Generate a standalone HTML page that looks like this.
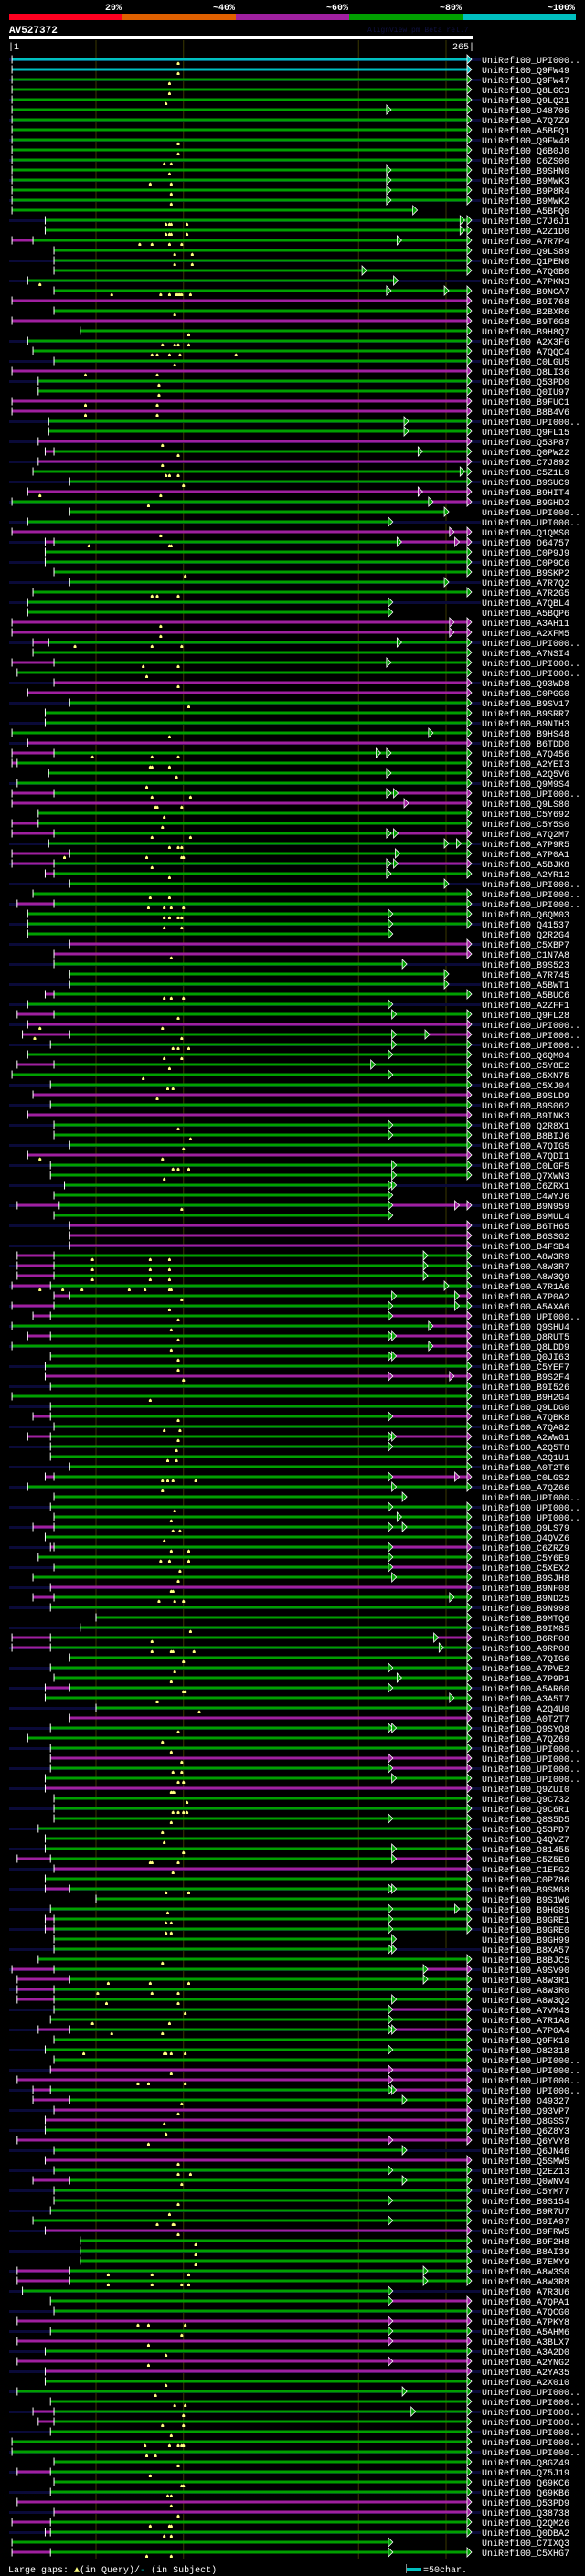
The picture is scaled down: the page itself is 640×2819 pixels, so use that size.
<!DOCTYPE html>
<html><head><meta charset="utf-8">
<style>
html,body{margin:0;padding:0;background:#000;}
svg{display:block;}
text{font-family:"Liberation Mono",monospace;}
</style></head>
<body>
<svg id="chart" width="640" height="2819" viewBox="0 0 640 2819" xmlns="http://www.w3.org/2000/svg">
<rect x="0" y="0" width="640" height="2819" fill="#000"/>
<g>
<rect x="10" y="15" width="124" height="7" fill="#ff0020"/>
<rect x="134" y="15" width="124" height="7" fill="#e06000"/>
<rect x="258" y="15" width="124" height="7" fill="#a020a0"/>
<rect x="382" y="15" width="124" height="7" fill="#00a000"/>
<rect x="506" y="15" width="124" height="7" fill="#00c0c0"/>
<text x="133" y="11" fill="#fff" font-size="10" font-weight="bold" text-anchor="end">20%</text>
<text x="257" y="11" fill="#fff" font-size="10" font-weight="bold" text-anchor="end">~40%</text>
<text x="381" y="11" fill="#fff" font-size="10" font-weight="bold" text-anchor="end">~60%</text>
<text x="505" y="11" fill="#fff" font-size="10" font-weight="bold" text-anchor="end">~80%</text>
<text x="629" y="11" fill="#fff" font-size="10" font-weight="bold" text-anchor="end">~100%</text>
</g>
<text x="10" y="36" fill="#fff" font-size="11" font-weight="bold">AV527372</text>
<text x="402" y="35" fill="#101040" font-size="8">AlignView.pm Beta rel.7</text>
<rect x="10" y="39" width="508" height="4" fill="#fff"/>
<text x="9" y="54" fill="#fff" font-size="10">|1</text>
<text x="519" y="54" fill="#fff" font-size="10" text-anchor="end">265|</text>
<g id="grid"></g>
<g id="rows"></g>
<g>
<text x="9" y="2815" fill="#fff" font-size="10">Large gaps: <tspan fill="#ffff80">▲</tspan>(in Query)/<tspan fill="#00c0c0">-</tspan> (in Subject)</text>
<rect x="445" y="2810" width="16" height="3" fill="#00c0c0"/>
<rect x="444" y="2806" width="1" height="10" fill="#888"/>
<text x="463" y="2815" fill="#fff" font-size="10">=50char.</text>
</g>
</svg>
<script>
const gridTicks = [50, 100, 150, 200, 250];
const labels = ["UPI000..","Q9FW49","Q9FW47","Q8LGC3","Q9LQ21","O48705","A7Q7Z9","A5BFQ1","Q9FW48","Q6B0J0","C6ZS00","B9SHN0","B9MWK3","B9P8R4","B9MWK2","A5BFQ0","C7J6J1","A2Z1D0","A7R7P4","Q9LS89","Q1PEN0","A7QGB0","A7PKN3","B9NCA7","B9I768","B2BXR6","B9T6G8","B9H8Q7","A2X3F6","A7QQC4","C0LGU5","Q8LI36","Q53PD0","Q0IU97","B9FUC1","B8B4V6","UPI000..","Q9FL15","Q53P87","Q0PW22","C7J892","C5Z1L9","B9SUC9","B9HIT4","B9GHD2","UPI000..","UPI000..","Q1QMS0","O64757","C0P9J9","C0P9C6","B9SKP2","A7R7Q2","A7R2G5","A7QBL4","A5BQP6","A3AH11","A2XFM5","UPI000..","A7NSI4","UPI000..","UPI000..","Q93WD8","C0PGG0","B9SV17","B9SRR7","B9NIH3","B9HS48","B6TDD0","A7Q456","A2YEI3","A2Q5V6","Q9M9S4","UPI000..","Q9LS80","C5Y692","C5Y5S0","A7Q2M7","A7P9R5","A7P0A1","A5BJK8","A2YR12","UPI000..",
"UPI000..","UPI000..","Q6QM03","Q41537","Q2R2G4","C5XBP7","C1N7A8","B9S523","A7R745","A5BWT1","A5BUC6","A2ZFF1","Q9FL28","UPI000..","UPI000..","UPI000..","Q6QM04","C5Y8E2","C5XN75","C5XJ04","B9SLD9","B9S062","B9INK3","Q2R8X1","B8BIJ6","A7QIG5","A7QDI1","C0LGF5",
"Q7XWN3","C6ZRX1","C4WYJ6","B9N959","B9MUL4","B6TH65","B6SSG2","B4FSB4","A8W3R9","A8W3R7","A8W3Q9","A7R1A6","A7P0A2","A5AXA6","UPI000..","Q9SHU4","Q8RUT5","Q8LDD9","Q0JI63","C5YEF7","B9S2F4","B9I526","B9H2G4","Q9LDG0","A7QBK8","A7QA82","A2WWG1",
"A2Q5T8","A2Q1U1","A0T2T6","C0LGS2","A7QZ66","UPI000..","UPI000..","UPI000..","Q9LS79","Q4QVZ6","C6ZRZ9","C5Y6E9","C5XEX2","B9SJH8","B9NF08","B9ND25","B9N998","B9MTQ6","B9IM85","B6RF08","A9RP08","A7QIG6","A7PVE2","A7P9P1","A5AR60","A3A5I7","A2Q4U0","A0T2T7",
"Q9SYQ8","A7QZ69","UPI000..","UPI000..","UPI000..","UPI000..","Q9ZUI0","Q9C732","Q9C6R1","Q8S5D5","Q53PD7","Q4QVZ7","O81455","C5Z5E9","C1EFG2","C0P786","B9SM68","B9S1W6","B9HG85","B9GRE1","B9GRE0","B9GH99","B8XA57","B8BJC5","A9SV90","A8W3R1","A8W3R0","A8W3Q2",
"A7VM43","A7R1A8","A7P0A4","Q9FK10","O82318","UPI000..","UPI000..","UPI000..","UPI000..","O49327","Q93VP7","Q8GSS7","Q6Z8Y3","Q6YVY8","Q6JN46","Q5SMW5","Q2EZ13","Q0WNV4","C5YM77","B9S154","B9R7U7","B9IA97","B9FRW5","B9F2H8","B8AI39","B7EMY9","A8W3S0","A8W3R8",
"A7R3U6","A7QPA1","A7QCG0","A7PKY8","A5AHM6","A3BLX7","A3A2D0","A2YNG2","A2YA35","A2X010","UPI000..","UPI000..","UPI000..","UPI000..","UPI000..","UPI000..","UPI000..","Q8GZ49","Q75J19","Q69KC6","Q69KB6","Q53PD9","Q38738","Q2QM26","Q0DBA2","C7IXQ3","C5XHG7"];
// [start, prefixEnd(magenta), color, tailStart(magenta), end, extraArrows, gapsInQuery, navy]
const alignRows = [
[2,0,'c',0,262,[],[97],1],[2,0,'c',0,262,[],[97],0],[2,0,'g',0,262,[],[92],1],[2,0,'g',0,262,[],[92],0],[2,0,'g',0,262,[],[90],1],
[2,0,'g',0,262,[216],[],0],[2,0,'g',0,262,[],[],1],[2,0,'g',0,262,[],[],0],[2,0,'g',0,262,[],[97],1],[2,0,'g',0,262,[],[97],0],
[2,0,'g',0,262,[],[89,93],1],[2,0,'g',0,262,[216],[92],0],[2,0,'g',0,262,[216],[81,93],1],[2,0,'g',0,262,[216],[93],0],[2,0,'g',0,262,[216],[93],1],
[2,0,'g',0,231,[],[],0],[21,0,'g',0,262,[258],[90,92,93,102],1],[21,0,'g',0,262,[258],[90,92,93,102],0],[2,14,'g',0,262,[222],[75,82,92,99],0],[26,0,'g',0,262,[],[95,105],0],
[26,0,'g',0,262,[],[95,105],1],[26,0,'g',0,262,[202],[],0],[11,0,'g',0,220,[],[18],1],[26,0,'g',0,262,[216,249],[59,87,92,96,97,98,99,104],0],[2,0,'m',0,262,[],[],0],
[26,0,'g',0,262,[],[95],0],[2,0,'m',0,262,[],[],0],[41,0,'g',0,262,[],[103],0],[11,0,'g',0,262,[],[88,95,97,103],1],[14,0,'g',0,262,[],[82,85,92,98,130],0],
[26,0,'g',0,262,[],[95],1],[2,0,'m',0,262,[],[44,85],0],[17,0,'g',0,262,[],[86],1],[17,0,'g',0,262,[],[86],0],[2,0,'m',0,262,[],[44,85],0],
[2,0,'m',0,262,[],[44,85],0],[23,0,'g',0,262,[226],[],1],[23,0,'g',0,262,[226],[],0],[17,0,'m',0,262,[],[88],1],[21,26,'g',0,262,[234],[97],0],
[17,0,'m',0,262,[],[88],1],[14,0,'g',0,262,[258],[90,92,97],0],[35,0,'g',0,262,[],[100],1],[11,0,'m',0,262,[234],[18,87],0],[2,0,'g',240,262,[240],[80],1],
[35,0,'g',0,249,[],[],0],[11,0,'g',0,217,[],[],1],[2,0,'m',0,262,[252],[87],0],[21,26,'g',222,262,[222,255],[46,92,93],1],[21,0,'g',0,262,[],[],0],
[21,0,'g',0,262,[],[],1],[26,0,'g',0,262,[],[101],0],[35,0,'g',0,249,[],[],1],[14,0,'g',0,262,[],[82,85,97],0],[11,0,'g',0,217,[],[],1],
[11,0,'g',0,217,[],[],0],[2,0,'m',0,262,[252],[87],0],[2,0,'m',0,262,[252],[87],0],[14,23,'g',0,262,[222],[38,82,99],1],[14,0,'g',0,262,[],[],0],
[2,26,'g',0,262,[216],[77,97],0],[5,0,'g',0,262,[],[79],0],[26,0,'m',0,262,[],[97],1],[11,0,'m',0,262,[],[],0],[35,0,'g',0,262,[],[103],1],
[21,0,'g',0,262,[],[],0],[21,0,'g',0,262,[],[],1],[2,0,'g',0,262,[240],[92],0],[11,0,'m',0,262,[],[],1],[2,26,'g',0,262,[210,216],[48,82,97],0],
[2,5,'g',0,262,[],[81,82,92],0],[23,0,'g',0,262,[216],[96],0],[5,0,'g',0,262,[],[79],1],[2,26,'g',220,262,[216,220],[82,104],0],[2,0,'m',0,262,[226],[84,85,99],0],
[17,0,'g',0,262,[],[89],0],[2,17,'g',0,262,[],[88],0],[2,26,'g',220,262,[216,220],[82,104],0],[23,0,'g',0,262,[249,256],[92,97,99],1],[2,35,'g',0,262,[221],[32,79,99,100],0],
[2,26,'g',220,262,[216,220],[82],1],[21,26,'g',0,262,[216],[92],0],[35,0,'g',0,249,[],[],1],
[14,0,'g',0,262,[],[81,92],0],[5,26,'g',0,262,[],[80,89,93,100],1],[11,0,'g',0,262,[217],[89,92,97,99],0],[11,0,'g',0,262,[217],[89,99],1],[11,0,'g',0,217,[],[],0],
[35,0,'m',0,262,[],[],1],[26,0,'m',0,262,[],[93],0],[26,0,'g',0,225,[],[],1],[35,0,'g',0,249,[],[],0],[35,0,'g',0,249,[],[],1],
[21,26,'g',0,262,[],[89,93,100],0],[11,0,'g',0,217,[],[],1],[5,26,'g',0,262,[219],[97],0],[11,0,'m',0,262,[],[18,88],1],[8,35,'g',238,262,[219,238],[15,99],0],
[24,0,'g',0,262,[219],[94,97,103],1],[11,0,'g',0,262,[217],[89,99],0],[5,26,'g',0,262,[207],[92],0],[2,0,'g',0,262,[217],[77],0],[24,0,'g',0,262,[],[91,94],1],
[14,0,'m',0,262,[],[85],0],[24,0,'g',0,262,[],[],1],[11,0,'m',0,262,[],[],0],[26,0,'g',0,262,[217],[97],1],[26,0,'g',0,262,[217],[104],0],
[35,0,'g',0,262,[],[100],1],[11,0,'m',0,262,[],[18,88],0],[24,0,'g',0,262,[219],[94,97,103],1],
[24,0,'g',0,262,[219],[89],0],[32,0,'g',0,219,[217],[],1],[26,0,'g',0,217,[],[],0],[5,29,'g',217,262,[217,255],[99],1],[26,0,'g',0,217,[],[],0],
[35,0,'m',0,262,[],[],1],[35,0,'m',0,262,[],[],0],[35,0,'m',0,262,[],[],1],[5,26,'g',0,262,[237],[48,81,92],0],[5,26,'g',0,262,[237],[48,81,92],1],
[5,26,'g',0,262,[237],[48,81,92],0],[2,24,'g',0,262,[249],[18,31,42,69,78,92,93],1],[26,35,'g',255,262,[219,255],[99],0],[2,26,'g',0,262,[217,255],[92],1],[14,24,'g',217,262,[217],[97],0],
[2,0,'g',240,262,[240],[93],1],[11,24,'g',219,262,[217,219],[97],0],[2,0,'g',240,262,[240],[93],1],[24,0,'g',219,262,[217,219],[97],0],[21,0,'g',0,262,[],[97],1],
[21,0,'m',0,262,[217,252],[100],0],[24,0,'g',0,262,[],[],1],[2,0,'g',0,262,[],[81],0],[24,0,'g',0,262,[],[],1],[14,24,'g',217,262,[217],[97],0],
[26,0,'g',0,262,[],[89,98],1],[11,24,'g',219,262,[217,219],[97],0],
[24,0,'g',0,262,[217],[96],1],[24,0,'g',0,262,[],[91,96],0],[35,0,'g',0,262,[],[],1],[21,26,'g',217,262,[217,255],[88,91,94,107],0],[11,0,'g',0,262,[219],[88],1],
[26,0,'g',0,225,[],[],0],[24,0,'g',0,262,[217],[95],1],[26,0,'g',0,262,[222],[93],0],[14,26,'g',0,262,[217,225],[94,98],1],[21,0,'g',0,262,[],[89],0],
[24,26,'g',217,262,[217],[93,103],1],[17,0,'g',0,262,[217],[87,92,103],0],[26,0,'g',217,262,[217],[98],1],[14,0,'g',0,262,[219],[97],0],[24,0,'m',0,262,[],[93,94],1],
[14,26,'g',0,262,[252],[86,95,100],0],[24,0,'g',0,262,[],[],1],[50,0,'g',0,262,[],[],0],[41,0,'g',0,262,[],[104],1],[2,24,'g',243,262,[243],[82],0],
[2,24,'g',0,262,[246],[82,93,94,106],1],[35,0,'g',0,262,[],[100],0],[24,0,'g',0,262,[217],[95],1],[26,0,'g',0,262,[222],[93],0],[21,35,'g',0,262,[217],[100,101],1],
[21,0,'g',0,262,[252],[85],0],[50,0,'g',0,262,[],[109],1],[35,0,'m',0,262,[],[],0],
[24,0,'g',0,262,[217,219],[97],1],[11,0,'g',0,262,[],[88],0],[24,0,'g',0,262,[],[93],1],[24,0,'m',0,262,[217],[99],0],[24,0,'g',217,262,[217],[94,99],1],
[21,0,'g',0,262,[219],[97,100],0],[21,0,'m',0,262,[],[93,94,95],1],[26,0,'g',0,262,[],[102],0],[26,0,'g',0,262,[],[94,97,100,102],1],[26,0,'g',0,262,[217],[93],0],
[17,0,'g',0,262,[],[88],1],[21,0,'g',0,262,[],[89],0],[21,0,'g',0,262,[219],[100],1],[5,24,'g',219,262,[219],[81,82,97],0],[26,0,'m',0,262,[],[94],1],
[21,0,'g',0,262,[],[],0],[21,35,'g',0,262,[217,219],[90,103],1],[50,0,'g',0,262,[],[],0],[24,0,'g',0,262,[217,255],[91],1],[21,26,'g',0,262,[217],[90,93],0],
[21,26,'g',0,262,[217],[90,93],1],[26,0,'g',0,219,[],[],0],[26,0,'g',0,219,[217],[],1],[17,0,'g',0,262,[],[88],0],[2,26,'g',237,262,[237],[],1],
[5,35,'g',0,262,[237],[57,81,103],0],[5,26,'g',0,262,[],[51,82,97],1],[5,26,'g',0,262,[219],[56,97],0],
[26,0,'g',217,262,[217],[101],1],[24,0,'g',0,262,[217],[48,92],0],[17,35,'g',219,262,[217,219],[59,88],1],[26,0,'g',0,262,[],[],0],[21,0,'g',0,262,[217],[43,89,90,93,101],1],
[26,0,'g',0,262,[],[],0],[24,0,'m',0,262,[217],[93],1],[5,0,'m',0,262,[217],[74,80,101],0],[14,24,'g',219,262,[217,219],[],1],[14,35,'g',0,262,[225],[99],0],
[26,0,'m',0,262,[],[97],1],[21,0,'m',0,262,[],[89],0],[21,0,'g',0,262,[],[90],1],[5,0,'m',0,262,[217],[80],0],[26,0,'g',0,225,[],[],1],
[21,0,'m',0,262,[],[97],0],[26,0,'g',0,262,[217],[97,104],1],[14,35,'g',0,262,[225],[99],0],[26,0,'g',0,262,[],[],1],[26,0,'g',0,262,[217],[97],0],
[24,0,'g',0,262,[],[92],1],[14,0,'g',0,262,[217],[85,94,95],0],[21,0,'m',0,262,[],[97],1],[41,0,'g',0,262,[],[107],0],[41,0,'g',0,262,[],[107],1],
[41,0,'g',0,262,[],[107],0],[5,35,'g',0,262,[237],[57,82,103],1],[5,35,'g',0,262,[237],[57,82,99,103],0],
[8,0,'g',0,217,[],[],1],[24,0,'g',217,262,[217],[],0],[26,0,'g',0,262,[],[],1],[5,0,'m',0,262,[217],[74,80,101],0],[24,0,'g',0,262,[217],[99],1],
[5,0,'m',0,262,[217],[80],0],[21,0,'g',0,262,[],[90],1],[5,0,'m',0,262,[217],[80],0],[21,0,'m',0,262,[],[],1],[21,0,'g',0,262,[],[90],0],
[5,0,'g',0,262,[225],[84],1],[24,0,'g',0,262,[],[95,101],0],[14,26,'g',0,262,[230],[100],1],[17,26,'g',0,262,[],[88,100],0],[24,0,'g',0,262,[],[93],1],
[2,0,'g',0,262,[],[78,92,97,99,100],0],[2,0,'g',0,262,[],[79,84],1],[26,0,'g',0,262,[],[97],0],[5,24,'g',0,262,[],[81],1],[26,0,'g',0,262,[],[99,100],0],
[24,0,'g',0,262,[],[91,93],1],[5,0,'m',0,262,[],[93],0],[26,0,'m',0,262,[],[97],1],[2,24,'g',0,262,[],[81,92,93],0],[21,24,'g',0,262,[],[89,93],1],
[2,0,'g',0,217,[],[],0],[2,24,'g',0,262,[217],[79,93],0]
];
const COLORS = {g:'#00a000', m:'#a020a0', c:'#00c0c0'};
const X0 = 9.25, PX = 1.915, Y0 = 65, ROWH = 11;
function xScale(p){ return X0 + PX * p; }
function yScale(i){ return Y0 + ROWH * i; }
const NS = 'http://www.w3.org/2000/svg';
function mk(tag, attrs, parent){
  const el = document.createElementNS(NS, tag);
  for (const k in attrs) el.setAttribute(k, attrs[k]);
  parent.appendChild(el);
  return el;
}
const grid = document.getElementById('grid');
gridTicks.forEach(t => {
  const l = mk('line', {x1: xScale(t), x2: xScale(t), y1: 44, y2: 2800, stroke: '#3a3800', 'stroke-width': 1}, grid);
  
  
});
const rowsG = document.getElementById('rows');
function arrow(parent, p, y, col){
  const x = xScale(p);
  const a = mk('polygon', {points: `${x},${y-5} ${x+5},${y} ${x},${y+5}`, fill: col, stroke: '#fff', 'stroke-width': 0.8}, parent);
  
  
}
alignRows.forEach((r, i) => {
  const [start, pre, col, tail, end, arrows, gaps, navy] = r;
  const y = yScale(i);
  const g = mk('g', {}, rowsG);
  
  
  if (navy) {
    const n = mk('rect', {x: 10, y: y-1, width: 516, height: 3, fill: '#0a0a38'}, g);
    
    
  }
  const mainStart = pre ? pre : start;
  const mainEnd = tail ? tail : end;
  if (pre) {
    const s = mk('rect', {x: xScale(start), y: y-1.5, width: xScale(pre)-xScale(start), height: 3, fill: COLORS.m}, g);
    
    
  }
  const m = mk('rect', {x: xScale(mainStart), y: y-1.5, width: xScale(mainEnd)-xScale(mainStart), height: 3, fill: COLORS[col]}, g);
  
  
  if (tail) {
    const t = mk('rect', {x: xScale(tail), y: y-1.5, width: xScale(end)-xScale(tail), height: 3, fill: COLORS.m}, g);
    
    
  }
  const st = mk('rect', {x: xScale(start)-0.5, y: y-4.5, width: 1, height: 9, fill: '#fff'}, g);
  
  
  if (pre) {
    const pt = mk('rect', {x: xScale(pre)-0.5, y: y-4.5, width: 1, height: 9, fill: '#fff'}, g);
    
    
  }
  arrows.forEach(p => arrow(g, p, y, (tail && p > tail) ? COLORS.m : (p >= mainEnd && tail ? COLORS[col] : COLORS[col])));
  arrow(g, end, y, tail ? COLORS.m : COLORS[col]);
  gaps.forEach(p => {
    const x = xScale(p);
    const gm = mk('polygon', {points: `${x-1.5},${y+6} ${x-1.5},${y+4} ${x},${y+2.5} ${x+1.5},${y+4} ${x+1.5},${y+6}`, fill: '#ffff80'}, g);
    
    
  });
  const lb = mk('text', {x: 527, y: y+4, fill: '#fff', 'font-size': 10}, g);
  lb.textContent = 'UniRef100_' + labels[i];
  
  
});
</script>
</body></html>
